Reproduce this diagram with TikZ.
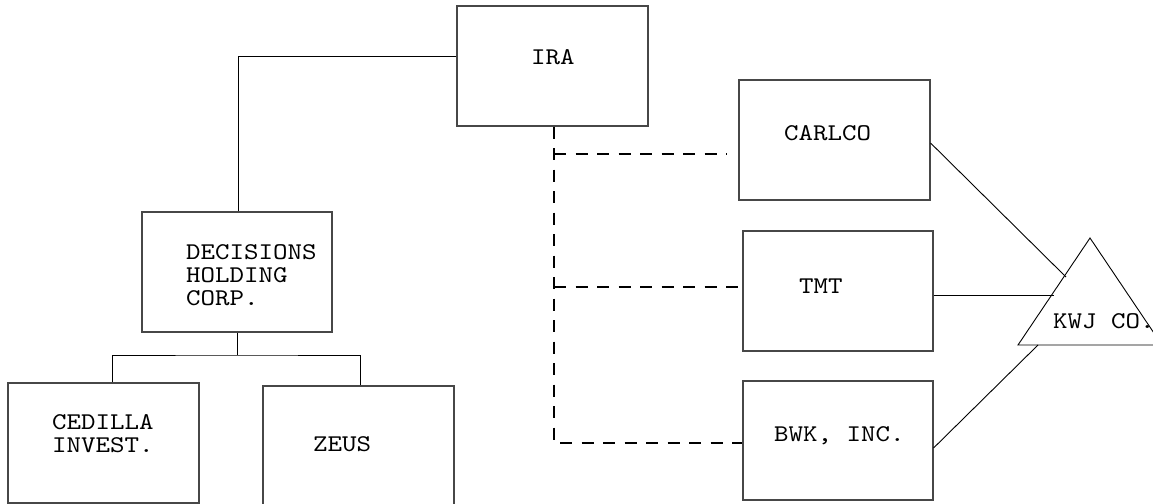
\documentclass[tikz,border=0pt]{standalone}
\usepackage{fontspec}
\setmonofont{lmmono10-regular}[Extension=.otf, FakeStretch=1.15]
\usetikzlibrary{calc}
\begin{document}
\begin{tikzpicture}[x=1pt, y=-1pt,
  orgbox/.style={draw=black!72, line width=1.1pt, rectangle, inner sep=0pt,
                 minimum width=191pt, minimum height=120pt},
  label/.style={anchor=base west, inner sep=0pt, align=left,
                font=\ttfamily\fontsize{24}{23}\selectfont},
  link/.style={draw=black, line width=0.9pt},
  owner/.style={draw=black, line width=2.3pt, dash pattern=on 12pt off 9.5pt}]
  \clip (0,0) rectangle (1153,503);
  \fill[white] (0,0) rectangle (1153,503);

  % boxes
  \node[orgbox] (ira)       at (552.5,66)  {};
  \node[orgbox, minimum width=190pt] (decisions) at (237,272) {};
  \node[orgbox] (cedilla)   at (103.5,443) {};
  \node[orgbox] (zeus)      at (358.5,446) {};
  \node[orgbox] (carlco)    at (834.5,140) {};
  \node[orgbox, minimum width=190pt] (tmt) at (838,291) {};
  \node[orgbox, minimum width=190pt, minimum height=119pt] (bwk) at (838,440.5) {};

  % box texts (multi-line labels are anchored on their last baseline)
  \node[label] (iraT)       at (531,64)  {IRA};
  \node[label] (decisionsT) at (186,305) {DECISIONS\\HOLDING\\CORP.};
  \node[label] (cedillaT)   at (52,452)  {CEDILLA\\INVEST.};
  \node[label] (zeusT)      at (313,451) {ZEUS};
  \node[label] (carlcoT)    at (784,140) {CARLCO};
  \node[label] (tmtT)       at (799,293) {TMT};
  \node[label] (bwkT)       at (774,441) {BWK, INC.};

  % triangle for KWJ CO.
  \coordinate (kwjTop)   at (1090,238);
  \coordinate (kwjLeft)  at (1018,345);
  \coordinate (kwjRight) at (1162,345);
  \draw[link] (kwjTop) -- (kwjLeft) -- (kwjRight) -- cycle;
  \node[label] (kwjT) at (1053,328) {KWJ CO.};

  % solid ownership tree on the left
  \coordinate (iraTap) at (ira.west |- 0,56);
  \draw[link] (iraTap) -| ([xshift=1.5pt]decisions.north);
  \coordinate (bus) at (237,355);
  \draw[link] (decisions.south) -- (bus);
  \draw[link] ([xshift=8.5pt]cedilla.north) |- (bus) -| ([xshift=1.5pt]zeus.north);

  % dashed links from IRA
  \coordinate (spine) at ([xshift=1.5pt]ira.south);
  \coordinate (jC) at (554,154);
  \coordinate (jT) at (554,287);
  \coordinate (jB) at (554,443);
  \coordinate (carlcoEnd) at (727,154);
  \coordinate (tmtEnd) at (tmt.west |- 0,287);
  \coordinate (bwkEnd) at (bwk.west |- 0,443);
  \draw[owner] (spine) -- (jB) -- (bwkEnd);
  \draw[owner] (jC) -- (carlcoEnd);
  \draw[owner] (jT) -- (tmtEnd);

  % links into the triangle
  \coordinate (kC) at (1066,277);
  \coordinate (kT) at (1054,295);
  \coordinate (kB) at (1038,345);
  \draw[link] (carlco.east |- 0,143) -- (kC);
  \draw[link] (tmt.east |- 0,295) -- (kT);
  \draw[link] (bwk.east |- 0,448) -- (kB);
\end{tikzpicture}
\end{document}
